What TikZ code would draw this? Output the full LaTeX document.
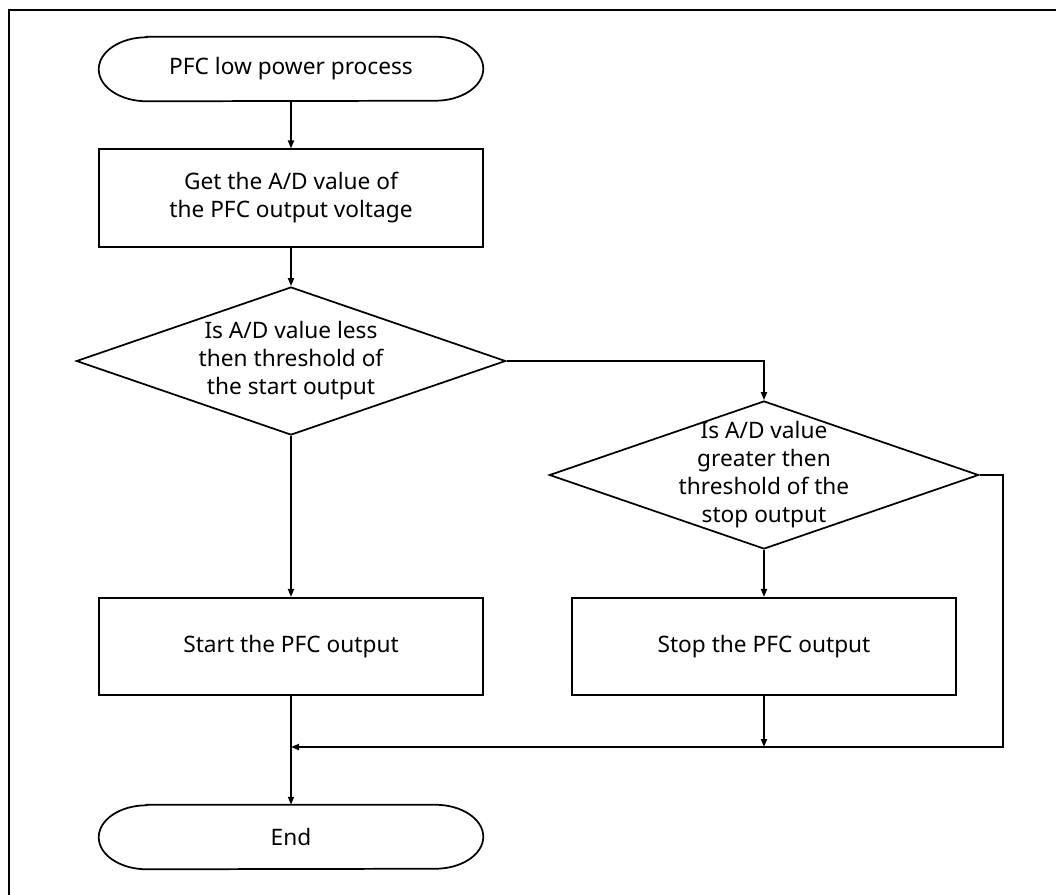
\documentclass[tikz,border=0pt]{standalone}
\usepackage{fontspec}
\setmainfont{Noto Sans}
\usepackage{tikz}
\usetikzlibrary{shapes.geometric, arrows.meta, positioning, calc}
\tikzset{
	terminal/.style ={rectangle, minimum width=288pt, minimum height=48pt, align=center},
	process/.style  ={rectangle, draw=black, line width=1.3pt, minimum width=288pt, minimum height=73pt, align=center},
	decision/.style ={diamond, draw=black, line width=1.3pt, minimum width=322pt, minimum height=111pt, inner sep=0pt},
	qtext/.style    ={align=center, inner sep=0pt},
	flowarrow/.style={-{Triangle[length=6pt, width=4.5pt]}, line width=1.3pt},
}

\begin{document}
\begin{tikzpicture}[x=0.75pt, y=-0.75pt, every node/.style={font=\fontsize{17pt}{21pt}\selectfont}]
	\clip (0,0) rectangle (1056,894);
	\draw[line width=1.5pt] (8.5,10) rectangle (1100,950);
	% left column
	\node[terminal] (start) at (291,69) {PFC low power process};
	\node[process] (getad) at (291,198) {Get the A/D value of\\the PFC output voltage};
	\node[decision] (q1) at (291,361) {};
	\node[qtext] (q1t) at (q1) {Is A/D value less\\then threshold of\\the start output};
	\node[process] (startpfc) at (291,646.5) {Start the PFC output};
	\node[terminal] (finish) at (291,837) {End};
	% right column
	\node[decision] (q2) at (764,475) {};
	\node[qtext] (q2t) at (q2) {Is A/D value\\greater then\\threshold of the\\stop output};
	\node[process] (stoppfc) at (764,646.5) {Stop the PFC output};
	\coordinate (loopR) at (1003,747);
	\coordinate (joinL) at (291,747);
	\coordinate (joinR) at (764,747);
	% terminal outlines
	\foreach \t in {start, finish} {
		\draw[line width=1.3pt] ([xshift=36pt]\t.north west) -- ([xshift=-36pt]\t.north east)
			arc[start angle=90, end angle=-90, x radius=36pt, y radius=24pt]
			-- ([xshift=36pt]\t.south west)
			arc[start angle=270, end angle=90, x radius=36pt, y radius=24pt] -- cycle;
	}
	% connectors
	\draw[flowarrow] (start) -- (getad);
	\draw[flowarrow] (getad) -- (q1);
	\draw[flowarrow] (q1.east) -| (q2.north);
	\draw[flowarrow] (q1.south) -- (startpfc.north);
	\draw[flowarrow] (q2.south) -- (stoppfc.north);
	\draw[flowarrow] (stoppfc.south) -- (joinR);
	\draw[flowarrow] (q2.east) -| (loopR) -- (joinL);
	\draw[flowarrow] (startpfc.south) -- (finish.north);
\end{tikzpicture}
\end{document}
